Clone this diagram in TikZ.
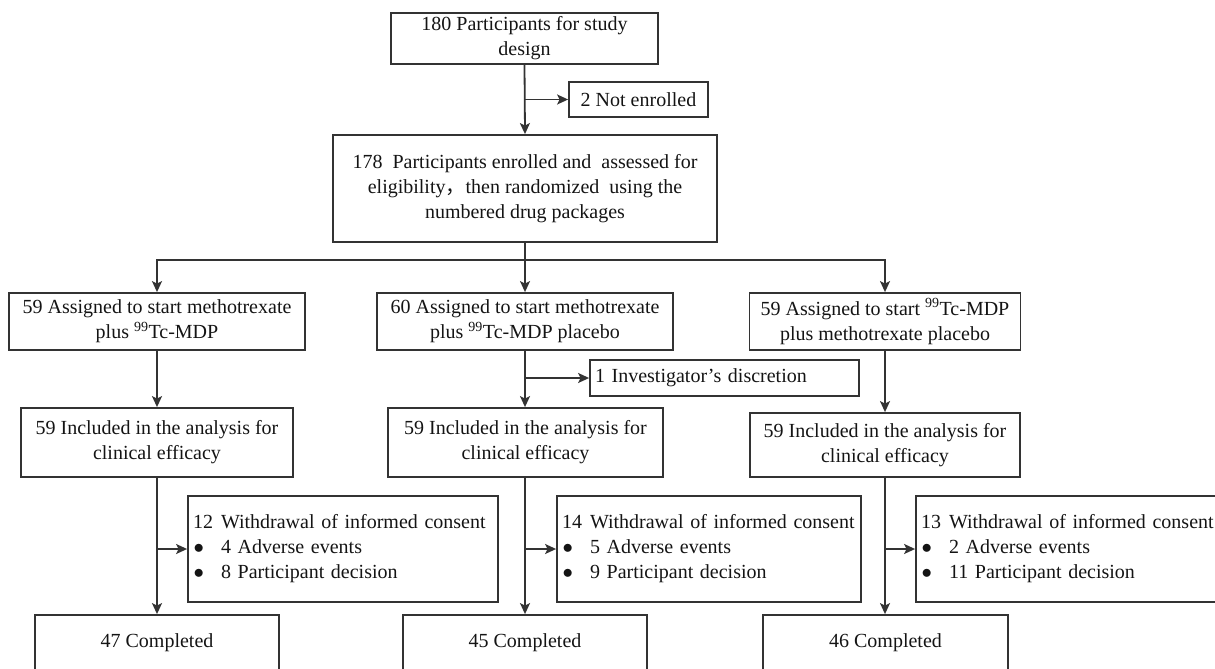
\documentclass[tikz,border=0pt]{standalone}
\usepackage{fontspec}
\setmainfont{Liberation Serif}
\newfontfamily\cjk{Noto Sans CJK SC}
\usetikzlibrary{arrows.meta,calc}
\definecolor{linec}{HTML}{333333}
\definecolor{textc}{HTML}{141414}
\newcommand{\blt}{\makebox[28pt][l]{\hspace{0.5pt}$\bullet$}}
\tikzset{
  box/.style={draw=linec, line width=1.8pt, rectangle, inner sep=0pt, align=center, text=textc, font=\fontsize{20}{25}\selectfont},
  lbox/.style={box, align=left, inner xsep=5pt, inner ysep=0pt},
  conn/.style={draw=linec, line width=1.8pt},
  arr/.style={conn, -{Stealth[length=11pt,width=10pt,inset=2.5pt]}},
}
\begin{document}
\begin{tikzpicture}[x=1pt,y=-1pt]
\useasboundingbox (0,0) rectangle (1215,669);
\clip (0,0) rectangle (1215,669);
% nodes
\node[box, minimum width=267pt, minimum height=51pt] (top) at (524.5,38.5) {180 Participants for study\\design};
\node[box, minimum width=139pt, minimum height=35pt] (ne) at (638.5,99.5) {2 Not enrolled};
\node[box, minimum width=384pt, minimum height=107pt] (enr) at (525,188.5) {178~ Participants enrolled and~ assessed for\\eligibility{\cjk ，}then randomized~ using the\\numbered drug packages};
\node[box, minimum width=296pt, minimum height=57pt] (a1) at (157,321.5) {59 Assigned to start methotrexate\\plus \textsuperscript{99}Tc-MDP};
\node[box, minimum width=296pt, minimum height=57pt] (a2) at (525,321.5) {60 Assigned to start methotrexate\\plus \textsuperscript{99}Tc-MDP placebo};
\node[box, minimum width=271pt, minimum height=57pt] (a3) at (885,321.5) {59 Assigned to start \textsuperscript{99}Tc-MDP\\plus methotrexate placebo};
\node[lbox, text width=259pt, minimum height=36pt] (inv) at (724.5,378) {1 Investigator’s discretion};
\node[box, minimum width=272pt, minimum height=69pt] (i1) at (157,442.5) {59 Included in the analysis for\\clinical efficacy};
\node[box, minimum width=275pt, minimum height=69pt] (i2) at (525.5,442.5) {59 Included in the analysis for\\clinical efficacy};
\node[box, minimum width=270pt, minimum height=64pt] (i3) at (885,445) {59 Included in the analysis for\\clinical efficacy};
\node[lbox, text width=300pt, minimum height=106pt] (w1) at (343,549) {\makebox[28pt][l]{12}Withdrawal of informed consent\\\blt 4 Adverse events\\\blt 8 Participant decision};
\node[lbox, text width=294pt, minimum height=106pt] (w2) at (709,549) {\makebox[28pt][l]{14}Withdrawal of informed consent\\\blt 5 Adverse events\\\blt 9 Participant decision};
\node[lbox, text width=299pt, minimum height=106pt] (w3) at (1070.5,549) {\makebox[28pt][l]{13}Withdrawal of informed consent\\\blt 2 Adverse events\\\blt 11 Participant decision};
\node[box, minimum width=244pt, minimum height=56pt] (c1) at (157,643) {47 Completed};
\node[box, minimum width=244pt, minimum height=56pt] (c2) at (525,643) {45 Completed};
\node[box, minimum width=245pt, minimum height=56pt] (c3) at (885.5,643) {46 Completed};
% connectors
\draw[arr] (top.south) -- (enr.north);
\draw[arr] (top.south |- ne.west) -- (ne.west);
\coordinate (split) at (525,260);
\draw[conn] (enr.south) -- (split);
\draw[conn, line cap=rect] (a1.north |- split) -- (a3.north |- split);
\draw[arr] (a1.north |- split) -- (a1.north);
\draw[arr] (split) -- (a2.north);
\draw[arr] (a3.north |- split) -- (a3.north);
\draw[arr] (a1.south) -- (a1.south |- i1.north);
\draw[arr] (a2.south) -- (a2.south |- i2.north);
\draw[arr] (a2.south |- inv.west) -- (inv.west);
\draw[arr] (a3.south) -- (a3.south |- i3.north);
\draw[arr] (i1.south) -- (i1.south |- c1.north);
\draw[arr] (i1.south |- w1.west) -- (w1.west);
\draw[arr] (a2.south |- i2.south) -- (a2.south |- c2.north);
\draw[arr] (a2.south |- w2.west) -- (w2.west);
\draw[arr] (i3.south) -- (i3.south |- c3.north);
\draw[arr] (i3.south |- w3.west) -- (w3.west);
\end{tikzpicture}
\end{document}
